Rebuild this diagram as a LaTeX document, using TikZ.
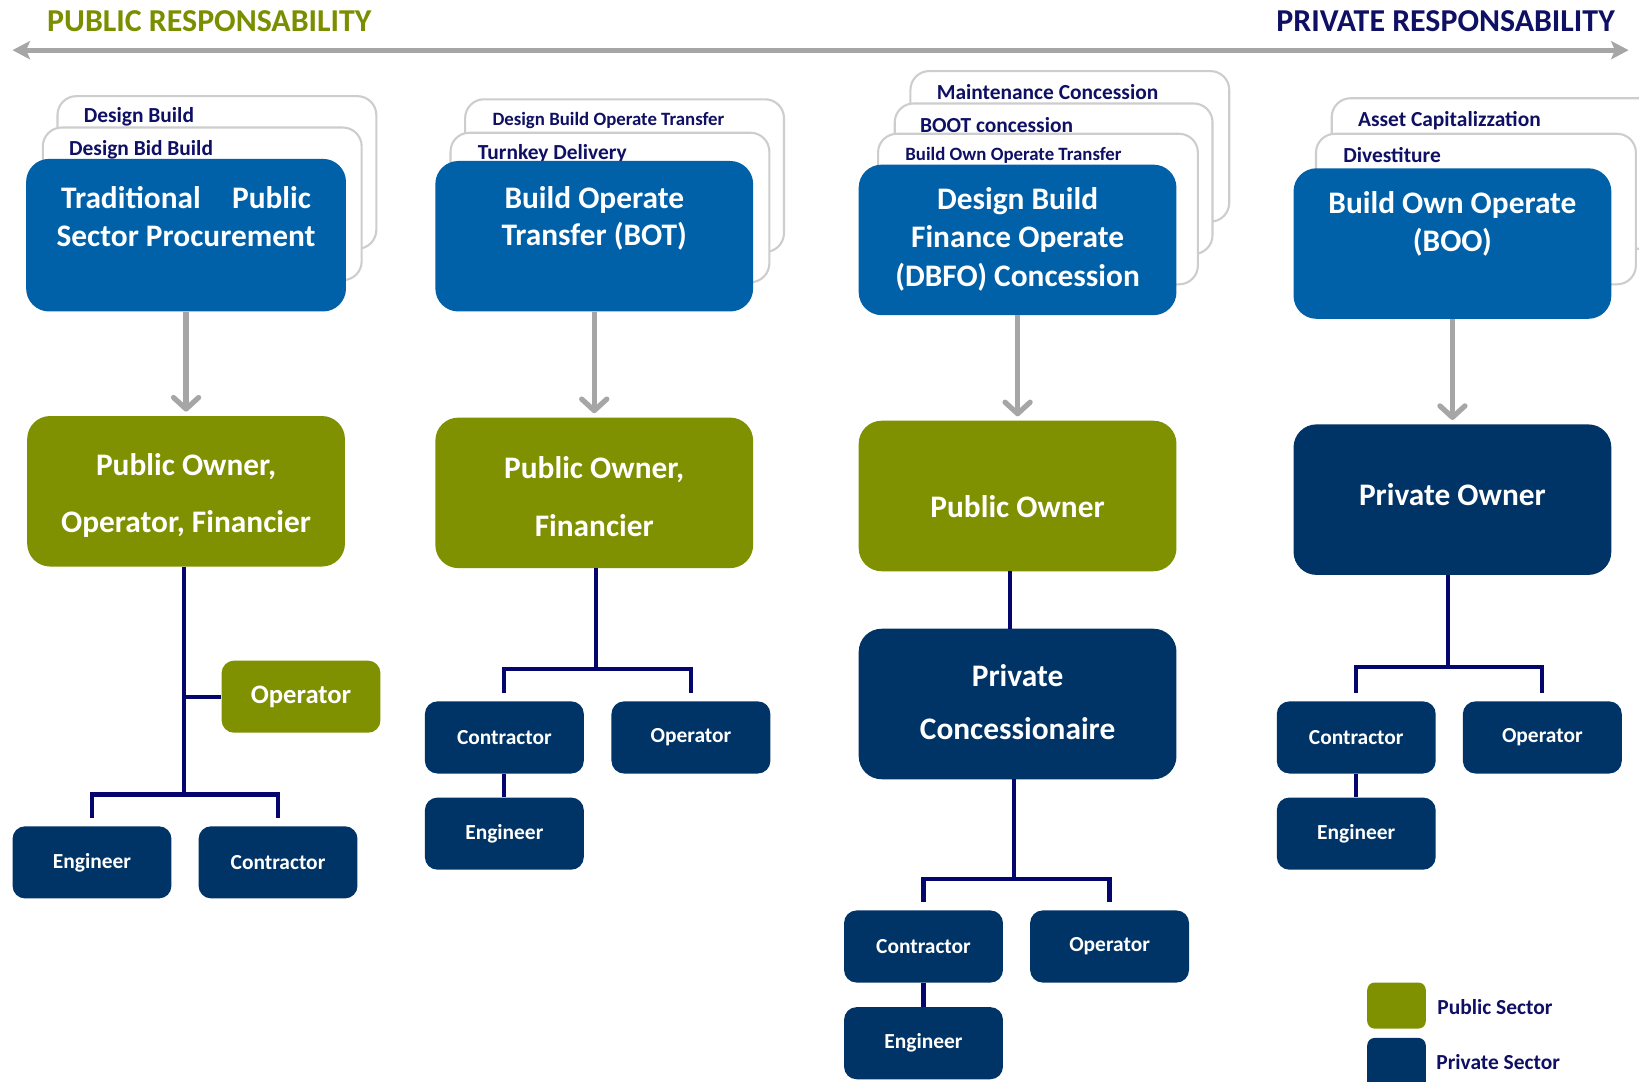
\documentclass[tikz,border=0pt]{standalone}
\usepackage{fontspec}
\setmainfont{Carlito}
\usetikzlibrary{arrows.meta}
\definecolor{pubgreen}{RGB}{127,144,0}
\definecolor{projblue}{RGB}{0,96,168}
\definecolor{privnavy}{RGB}{0,51,102}
\definecolor{linenavy}{RGB}{5,5,110}
\definecolor{txtnavy}{RGB}{15,15,100}
\definecolor{titlegreen}{RGB}{122,142,0}
\definecolor{arrgray}{RGB}{166,166,166}
\definecolor{cardgray}{RGB}{205,205,205}
\begin{document}
\begin{tikzpicture}[x=1pt,y=-1pt,
  card/.style={draw=cardgray, line width=2pt, fill=white, rounded corners=18pt},
  cardlabel/.style={anchor=west, inner sep=0pt, text=txtnavy, font=\bfseries\fontsize{#1}{#1}\selectfont},
  bigbox/.style={rounded corners=22pt, inner sep=0pt, minimum width=304pt, minimum height=144pt},
  projbox/.style={bigbox, fill=projblue},
  pubbox/.style={bigbox, fill=pubgreen},
  privbox/.style={bigbox, fill=privnavy},
  bigtext/.style={inner sep=0pt, align=center, text=white, font=\bfseries\fontsize{30}{#1}\selectfont},
  smallbox/.style={rounded corners=12pt, inner sep=0pt, minimum width=152pt, minimum height=69pt, text=white, font=\bfseries\fontsize{20.5}{24}\selectfont},
  smallpriv/.style={smallbox, fill=privnavy},
  smallpub/.style={smallbox, fill=pubgreen},
  grayarrow/.style={draw=arrgray, line width=5pt, -{Straight Barb[length=11pt,width=24pt,line width=5pt,round]}, shorten >=4pt},
  orgline/.style={draw=linenavy, line width=4pt}
]
\useasboundingbox (0,0) rectangle (1568,1035);

% titles and top arrow
\node[anchor=west, inner sep=0pt, text=titlegreen, font=\bfseries\fontsize{30.5}{30}\selectfont] (tpub) at (45,20) {PUBLIC RESPONSABILITY};
\node[anchor=east, inner sep=0pt, text=txtnavy, font=\bfseries\fontsize{30.5}{30}\selectfont] (tpriv) at (1545,20) {PRIVATE RESPONSABILITY};
\coordinate (al) at (12,48);
\coordinate (ar) at (1558,48);
\draw[draw=arrgray, fill=arrgray, line width=4.5pt, {Stealth[length=17pt,width=18pt,inset=4pt,line width=0pt]}-{Stealth[length=17pt,width=18pt,inset=4pt,line width=0pt]}] (al) -- (ar);

% ---------- column 1 ----------
\draw[card] (55,92) rectangle (360,238);
\node[cardlabel=20.5] (l1a) at (80,112) {Design Build};
\draw[card] (41,122) rectangle (346,268);
\node[cardlabel=20.5] (l1b) at (66,143) {Design Bid Build};
\node[projbox, minimum width=306pt, minimum height=146pt] (b1) at (178,225) {};
\node[bigtext=36] (b1t) at (178,207) {Traditional\quad Public\\Sector Procurement};
\node[pubbox] (g1) at (178,470) {};
\node[bigtext=55] (g1t) at (178,474) {Public Owner,\\Operator, Financier};
\node[smallpub] (op1) at (288,666.5) {\fontsize{25.5}{28}\selectfont Operator};
\node[smallpriv] (eng1) at (88,825) {Engineer};
\node[smallpriv] (con1) at (266,825) {Contractor};
\draw[grayarrow] (b1.south) -- (g1.north);
\coordinate (j1) at (176,760);
\draw[orgline] (g1.south -| j1) -- (j1);
\draw[orgline] (op1.west -| j1) -- (op1.west);
\draw[orgline] (eng1.north |- 0,783) -- (eng1.north |- j1) -- (con1.north |- j1) -- (con1.north |- 0,783);

% ---------- column 2 ----------
\draw[card] (445,95) rectangle (750,241);
\node[cardlabel=18] (l2a) at (471,115) {Design Build Operate Transfer};
\draw[card] (431,127) rectangle (736,270);
\node[cardlabel=20.5] (l2b) at (457,147) {Turnkey Delivery};
\node[projbox] (b2) at (568.5,226) {};
\node[bigtext=36] (b2t) at (568.5,209) {Build Operate\\Transfer (BOT)};
\node[pubbox] (g2) at (568.5,471.5) {};
\node[bigtext=55] (g2t) at (568.5,475) {Public Owner,\\Financier};
\node[smallpriv] (con2) at (482.5,705.5) {Contractor};
\node[smallpriv] (op2) at (661,705.5) {Operator};
\node[smallpriv] (eng2) at (482.5,797.5) {Engineer};
\draw[grayarrow] (b2.south) -- (g2.north);
\coordinate (j2) at (570,640);
\draw[orgline] (g2.south -| j2) -- (j2);
\draw[orgline] (con2.north |- 0,663) -- (con2.north |- j2) -- (op2.north |- j2) -- (op2.north |- 0,663);
\draw[orgline] (con2.south) -- (eng2.north);

% ---------- column 3 ----------
\draw[card] (871,68) rectangle (1176,212);
\node[cardlabel=20.5] (l3a) at (896,88) {Maintenance Concession};
\draw[card] (856,99) rectangle (1160,243);
\node[cardlabel=20.5] (l3b) at (880,120) {BOOT concession};
\draw[card] (840,128) rectangle (1146,272);
\node[cardlabel=18] (l3c) at (866,149) {Build Own Operate Transfer};
\node[projbox] (b3) at (973.5,229.5) {};
\node[bigtext=37] (b3t) at (973.5,229) {Design Build\\Finance Operate\\(DBFO) Concession};
\node[pubbox] (g3) at (973.5,474.5) {};
\node[bigtext=30] (g3t) at (973.5,485) {Public Owner};
\node[privbox] (pc) at (973.5,673.5) {};
\node[bigtext=51] (pct) at (973.5,672) {Private\\Concessionaire};
\node[smallpriv] (con3) at (883.5,905.5) {Contractor};
\node[smallpriv] (op3) at (1061.5,905.5) {Operator};
\node[smallpriv] (eng3) at (883.5,998) {Engineer};
\draw[grayarrow] (b3.south) -- (g3.north);
\draw[orgline] (966,546) -- (pc.north -| 966,0);
\coordinate (j3) at (970,841);
\draw[orgline] (pc.south -| j3) -- (j3);
\draw[orgline] (con3.north |- 0,863) -- (con3.north |- j3) -- (op3.north |- j3) -- (op3.north |- 0,863);
\draw[orgline] (con3.south) -- (eng3.north);

% ---------- column 4 ----------
\draw[card] (1274,94) rectangle (1590,238);
\node[cardlabel=20.5] (l4a) at (1299,115) {Asset Capitalizzation};
\draw[card] (1259,128) rectangle (1565,272);
\node[cardlabel=20.5] (l4b) at (1285,148) {Divestiture};
\node[projbox] (b4) at (1389.5,233) {};
\node[bigtext=36] (b4t) at (1389.5,214) {Build Own Operate\\(BOO)};
\node[privbox] (po4) at (1389.5,478) {};
\node[bigtext=30] (po4t) at (1389.5,473) {Private Owner};
\node[smallpriv] (con4) at (1297.5,705.5) {Contractor};
\node[smallpriv] (op4) at (1475.5,705.5) {Operator};
\node[smallpriv] (eng4) at (1297.5,797.5) {Engineer};
\draw[grayarrow] (b4.south) -- (po4.north);
\coordinate (j4) at (1385,638);
\draw[orgline] (po4.south -| j4) -- (j4);
\draw[orgline] (con4.north |- 0,663) -- (con4.north |- j4) -- (op4.north |- j4) -- (op4.north |- 0,663);
\draw[orgline] (con4.south) -- (eng4.north);

% ---------- legend ----------
\node[fill=pubgreen, rounded corners=7pt, minimum width=56pt, minimum height=44pt, inner sep=0pt] (lg1) at (1336,962) {};
\node[fill=privnavy, rounded corners=7pt, minimum width=56pt, minimum height=50pt, inner sep=0pt] (lg2) at (1336,1018) {};
\node[cardlabel=20.5] (lt1) at (1375,963) {Public Sector};
\node[cardlabel=20.5] (lt2) at (1374,1016) {Private Sector};
\end{tikzpicture}
\end{document}
